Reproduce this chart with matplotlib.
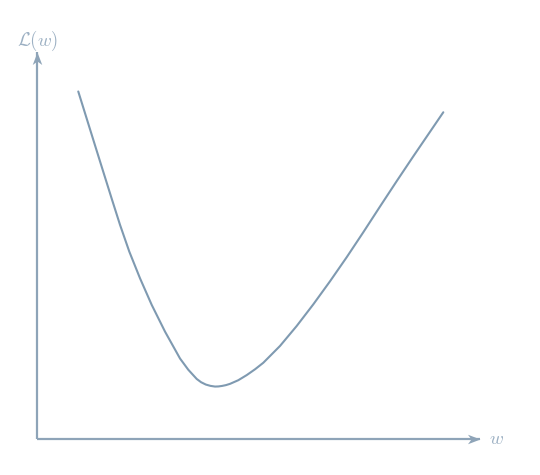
import matplotlib
matplotlib.use("Agg")
import matplotlib.pyplot as plt
from matplotlib.path import Path

plt.rcParams['mathtext.fontset'] = 'cm'

# Curve values (w, L(w))
w_vals = [0.925, 1.116, 1.303, 1.491, 1.681, 1.868, 2.078, 2.320, 2.584, 2.885,
          3.224, 3.410, 3.601, 3.700, 3.806, 3.910, 4.014, 4.090, 4.172, 4.260,
          4.353, 4.540, 4.730, 4.920, 5.105, 5.482, 5.859,
          6.234, 6.612, 6.989, 7.364, 7.741, 8.118, 8.493, 8.871, 9.171]
L_vals = [8.980, 8.278, 7.590, 6.902, 6.208, 5.535, 4.842, 4.152, 3.466, 2.774,
          2.079, 1.790, 1.551, 1.467, 1.407, 1.373, 1.355, 1.358, 1.371, 1.392,
          1.425, 1.519, 1.651, 1.803, 1.970, 2.404, 2.920,
          3.479, 4.076, 4.698, 5.343, 6.007, 6.663, 7.304, 7.939, 8.443]

x_axis = [0, 10]
y_axis = [0, 10]

curve_color = '#7f9ab1'
axis_color = '#8ea4b8'
text_color = '#9cb0c3'

fig = plt.figure(figsize=(5.4, 4.75), dpi=100)
ax = fig.add_axes([0.0691, 0.0758, 0.8198, 0.8147])
ax.set_xlim(x_axis)
ax.set_ylim(y_axis)
ax.axis('off')

# axes lines
ax.plot(x_axis, [0, 0], color=axis_color, lw=1.6, clip_on=False, solid_capstyle='butt')
ax.plot([0, 0], y_axis, color=axis_color, lw=1.6, clip_on=False, solid_capstyle='butt')

# stealth-like arrow heads
head_right = Path([(0, 0), (-1, 0.38), (-0.72, 0), (-1, -0.38), (0, 0)],
                  [Path.MOVETO, Path.LINETO, Path.LINETO, Path.LINETO, Path.CLOSEPOLY])
head_up = Path([(0, 0), (0.38, -1), (0, -0.72), (-0.38, -1), (0, 0)],
               [Path.MOVETO, Path.LINETO, Path.LINETO, Path.LINETO, Path.CLOSEPOLY])
ax.plot([x_axis[1]], [0], marker=head_right, markersize=18, color=axis_color,
        markeredgewidth=0, clip_on=False)
ax.plot([0], [y_axis[1]], marker=head_up, markersize=18, color=axis_color,
        markeredgewidth=0, clip_on=False)

# curve
ax.plot(w_vals, L_vals, color=curve_color, lw=1.5, solid_joinstyle='round',
        solid_capstyle='round')

# labels
ax.text(0, 10.28, r'$\mathcal{L}(w)$', color=text_color, fontsize=13.5,
        ha='center', va='center')
ax.text(10.2, 0, r'$w$', color=text_color, fontsize=13.5, ha='left', va='center')

fig.savefig('out.png', dpi=100)
